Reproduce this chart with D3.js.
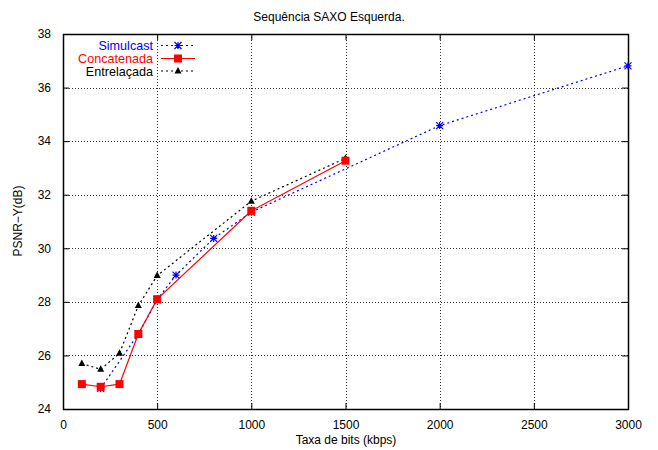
<!DOCTYPE html>
<html>
<head>
<meta charset="utf-8">
<script src="https://cdn.jsdelivr.net/npm/d3@7"></script>
<style>
  html, body { margin: 0; padding: 0; background: #fff; }
  svg { display: block; font-family: "Liberation Sans", Arial, Helvetica, sans-serif; }
</style>
</head>
<body>
<svg id="chart" width="658" height="450"></svg>
<script>
// PSNR-Y versus bit rate for the left SAXO view
const simulcastRate = [200, 400, 500, 600, 800, 1000, 2000, 3000];
const simulcastPsnr = [24.77, 26.8, 28.08, 29.0, 30.37, 31.35, 34.58, 36.81];

const concatRate = [100, 200, 300, 400, 500, 1000, 1500];
const concatPsnr = [24.93, 24.83, 24.93, 26.8, 28.1, 31.4, 33.27];

const interRate = [100, 200, 300, 400, 500, 1000, 1500];
const interPsnr = [25.7, 25.48, 26.08, 27.86, 28.98, 31.76, 33.36];

const xTicks = [0, 500, 1000, 1500, 2000, 2500, 3000];
const yTicks = [24, 26, 28, 30, 32, 34, 36, 38];

const svg = d3.select("#chart");
const plotL = 63, plotR = 628, plotT = 34, plotB = 409;

const x = d3.scaleLinear().domain([0, 3000]).range([plotL, plotR]);
const y = d3.scaleLinear().domain([24, 38]).range([plotB, plotT]);

// grid
const grid = svg.append("g").attr("stroke", "#000").attr("stroke-width", 1)
  .attr("stroke-dasharray", "1,2").attr("shape-rendering", "crispEdges").attr("opacity", 0.8);
xTicks.slice(1, -1).forEach(t => grid.append("line")
  .attr("x1", Math.round(x(t)) + 0.5).attr("x2", Math.round(x(t)) + 0.5)
  .attr("y1", plotT).attr("y2", plotB));
yTicks.slice(1, -1).forEach(t => grid.append("line")
  .attr("y1", Math.round(y(t)) + 0.5).attr("y2", Math.round(y(t)) + 0.5)
  .attr("x1", plotL).attr("x2", plotR));

// axes with inward ticks on all sides
const tickLen = 6;
const fmt = d3.format("d");
const axB = svg.append("g").attr("transform", `translate(0,${plotB})`)
  .call(d3.axisBottom(x).tickValues(xTicks).tickFormat(fmt).tickSizeInner(-tickLen).tickSizeOuter(0).tickPadding(11));
const axT = svg.append("g").attr("transform", `translate(0,${plotT})`)
  .call(d3.axisTop(x).tickValues(xTicks).tickSizeInner(-tickLen).tickSizeOuter(0).tickFormat(""));
const axL = svg.append("g").attr("transform", `translate(${plotL},0)`)
  .call(d3.axisLeft(y).tickValues(yTicks).tickFormat(fmt).tickSizeInner(-tickLen).tickSizeOuter(0).tickPadding(12));
const axR = svg.append("g").attr("transform", `translate(${plotR},0)`)
  .call(d3.axisRight(y).tickValues(yTicks).tickSizeInner(-tickLen).tickSizeOuter(0).tickFormat(""));
[axB, axT, axL, axR].forEach(a => {
  a.select(".domain").remove();
  a.selectAll("line").attr("stroke", "#000");
  a.selectAll("text").attr("font-size", 12).attr("fill", "#000")
    .attr("font-family", "'Liberation Sans', Arial, sans-serif");
});

// frame
svg.append("rect").attr("x", plotL + 0.5).attr("y", plotT + 0.5)
  .attr("width", plotR - plotL).attr("height", plotB - plotT)
  .attr("fill", "none").attr("stroke", "#000").attr("stroke-width", 1.5);

// titles
svg.append("text").attr("x", 329).attr("y", 21).attr("text-anchor", "middle")
  .attr("font-size", 12).text("Sequência SAXO Esquerda.");
svg.append("text").attr("x", 346).attr("y", 444).attr("text-anchor", "middle")
  .attr("font-size", 12).text("Taxa de bits (kbps)");
svg.append("text").attr("transform", "translate(22,221) rotate(-90)").attr("text-anchor", "middle")
  .attr("font-size", 12).text("PSNR−Y(dB)");

// marker shapes
function star(g, cx, cy, color) {
  const r = 3.5;
  g.append("path").attr("d",
    `M${cx - r},${cy}H${cx + r}M${cx},${cy - r}V${cy + r}` +
    `M${cx - r},${cy - r}L${cx + r},${cy + r}M${cx - r},${cy + r}L${cx + r},${cy - r}`)
    .attr("stroke", color).attr("stroke-width", 1.2).attr("fill", "none");
}
function square(g, cx, cy, color) {
  g.append("rect").attr("x", cx - 4).attr("y", cy - 4).attr("width", 8).attr("height", 8).attr("fill", color);
}
function triangle(g, cx, cy, color) {
  g.append("path").attr("d", `M${cx},${cy - 4}L${cx + 3.5},${cy + 2.5}L${cx - 3.5},${cy + 2.5}Z`).attr("fill", color);
}

const series = [
  { name: "Simulcast", rate: simulcastRate, psnr: simulcastPsnr, color: "#0000ff", dash: "2,3", width: 1.2, mark: star },
  { name: "Concatenada", rate: concatRate, psnr: concatPsnr, color: "#ff0000", dash: null, width: 1.2, mark: square },
  { name: "Entrelaçada", rate: interRate, psnr: interPsnr, color: "#000000", dash: "2,3", width: 1.2, mark: triangle }
];

const line = d3.line().x(d => x(d[0])).y(d => y(d[1]));
// draw order: black, blue, red lines; markers on top
const order = [2, 0, 1];
order.forEach(i => {
  const s = series[i];
  const pts = s.rate.map((r, k) => [r, s.psnr[k]]);
  svg.append("path").datum(pts).attr("d", line).attr("fill", "none")
    .attr("stroke", s.color).attr("stroke-width", s.width)
    .attr("stroke-dasharray", s.dash);
});
order.forEach(i => {
  const s = series[i];
  const g = svg.append("g");
  s.rate.forEach((r, k) => s.mark(g, x(r), y(s.psnr[k]), s.color));
});

// legend
const legendY = [45.5, 58.5, 71];
series.forEach((s, i) => {
  const ly = legendY[i];
  svg.append("text").attr("x", 153).attr("y", ly + 4.5).attr("text-anchor", "end")
    .attr("font-size", 12.6).attr("fill", s.color).text(s.name);
  svg.append("line").attr("x1", 161).attr("x2", 195).attr("y1", ly).attr("y2", ly)
    .attr("stroke", s.color).attr("stroke-width", s.width).attr("stroke-dasharray", s.dash);
  const g = svg.append("g");
  s.mark(g, 178, ly, s.color);
});
</script>
</body>
</html>
